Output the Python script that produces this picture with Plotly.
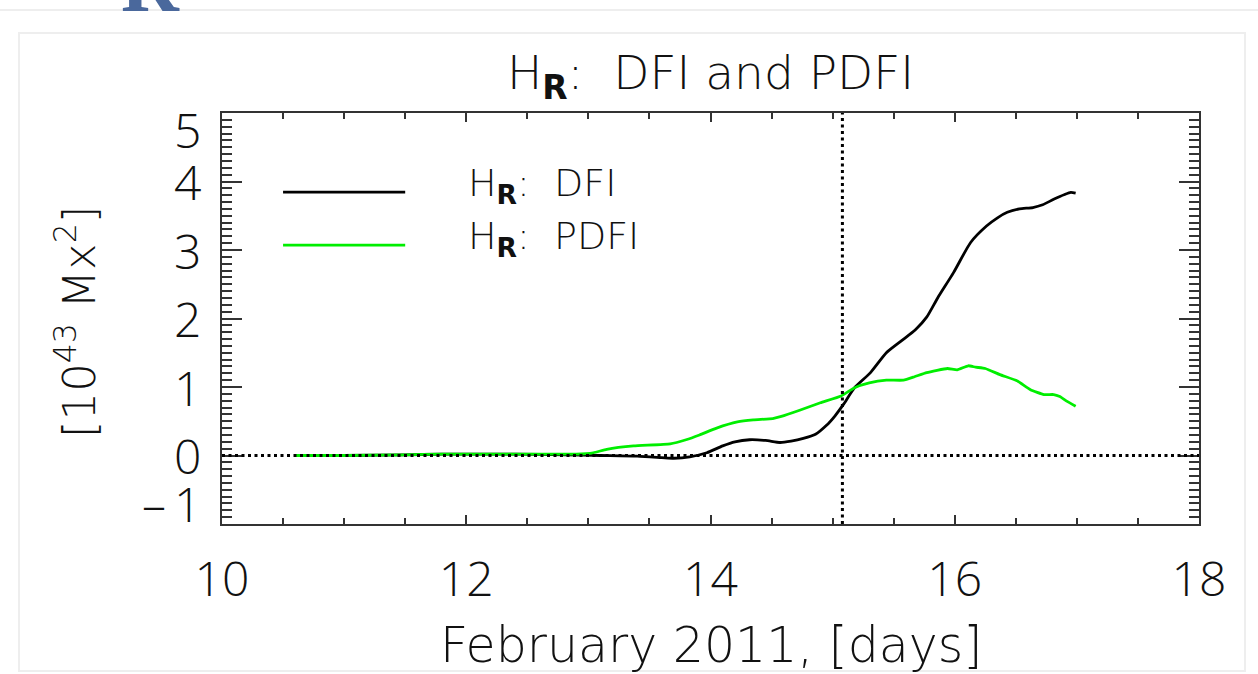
import plotly.graph_objects as go

# ---------------- data ----------------
days_dfi = [10.6, 11.0, 11.5, 11.8, 12.0, 12.4, 12.8, 13.1, 13.4, 13.6, 13.7, 13.83,
            13.97, 14.10, 14.20, 14.32, 14.45, 14.57, 14.66, 14.76, 14.86, 14.95, 15.02,
            15.09, 15.18, 15.31, 15.44, 15.56, 15.68, 15.77, 15.86, 15.99, 16.13, 16.26,
            16.35, 16.43, 16.53, 16.64, 16.72, 16.81, 16.90, 16.95, 16.99]
dfi = [0.0, 0.0, 0.01, 0.02, 0.02, 0.02, 0.01, 0.0, -0.01, -0.03, -0.04, -0.02,
       0.04, 0.14, 0.20, 0.23, 0.22, 0.19, 0.21, 0.25, 0.31, 0.44, 0.58,
       0.75, 0.99, 1.21, 1.50, 1.67, 1.84, 2.02, 2.30, 2.67, 3.11, 3.35,
       3.47, 3.55, 3.60, 3.62, 3.66, 3.74, 3.81, 3.84, 3.83]

days_pdfi = [10.6, 11.0, 11.5, 11.8, 12.0, 12.5, 12.9, 13.04, 13.15, 13.37, 13.67, 13.8,
             13.91, 14.05, 14.22, 14.35, 14.51, 14.58, 14.73, 14.90, 15.07, 15.18, 15.30,
             15.44, 15.58, 15.67, 15.77, 15.94, 16.02, 16.11, 16.17, 16.25, 16.37, 16.51,
             16.62, 16.73, 16.81, 16.86, 16.92, 16.99]
pdfi = [0.0, 0.0, 0.01, 0.02, 0.02, 0.02, 0.02, 0.04, 0.09, 0.14, 0.17, 0.23,
        0.30, 0.40, 0.49, 0.52, 0.54, 0.57, 0.66, 0.77, 0.87, 0.99, 1.06,
        1.10, 1.10, 1.15, 1.21, 1.27, 1.25, 1.31, 1.29, 1.27, 1.18, 1.09,
        0.96, 0.89, 0.89, 0.86, 0.79, 0.72]

flare_day = 15.08
x_ticks = [10, 12, 14, 16, 18]
y_ticks = [-1, 0, 1, 2, 3, 4, 5]
y_tick_text = ["\u2013\u20091", "0", "1", "2", "3", "4", "5"]
series_names = ["H<sub><b>R</b></sub>:  DFI", "H<sub><b>R</b></sub>:  PDFI"]

# ---------------- styling ----------------
FONT = "Open Sans"
TFONT = "DejaVu Sans"
TXT = "#111111"
AX = "#333333"
W, H = 1258, 674
L, R, T, B = 222, 1199, 113, 524   # plot area in pixels
pw, ph = R - L, B - T


def px(xp):
    return (xp - L) / pw


def py(yp):
    return (B - yp) / ph


fig = go.Figure()
fig.add_trace(go.Scatter(x=days_dfi, y=dfi, mode="lines", name=series_names[0],
                         line=dict(color="#000000", width=2.8, shape="spline", smoothing=0.6),
                         showlegend=False))
fig.add_trace(go.Scatter(x=days_pdfi, y=pdfi, mode="lines", name=series_names[1],
                         line=dict(color="#00ee00", width=2.8, shape="spline", smoothing=0.4),
                         showlegend=False))

# zero line and flare-time line
fig.add_shape(type="line", xref="paper", yref="y", x0=0, x1=1, y0=0, y1=0,
              line=dict(color="#000000", width=3, dash="3px,3.5px"), layer="above")
fig.add_shape(type="line", xref="x", yref="paper", x0=flare_day, x1=flare_day, y0=0, y1=1,
              line=dict(color="#000000", width=3, dash="3px,3.5px"), layer="above")

# legend samples
leg_y = [3.845, 3.07]
leg_col = ["#000000", "#00ee00"]
for i in range(2):
    fig.add_shape(type="line", xref="x", yref="y", x0=10.5, x1=11.5, y0=leg_y[i], y1=leg_y[i],
                  line=dict(color=leg_col[i], width=2.8))
    fig.add_annotation(xref="x", yref="y", x=12.0, y=leg_y[i] + 0.1, text=series_names[i],
                       showarrow=False, xanchor="left", yanchor="middle",
                       font=dict(family=TFONT, size=38, color=TXT, weight=300))

# y tick labels (IDL places the end labels inside the axis range)
shifts = {-1: 21, 5: -16}
for v, t in zip(y_ticks, y_tick_text):
    fig.add_annotation(xref="paper", yref="y", x=px(203), y=v, text=t, showarrow=False,
                       xanchor="right", yanchor="middle", yshift=shifts.get(v, 0),
                       font=dict(family=FONT, size=48, color=TXT, weight=300))

# axis titles
fig.add_annotation(xref="paper", yref="paper", x=0.5, y=py(645), text="February 2011, [days]",
                   showarrow=False, xanchor="center", yanchor="middle",
                   font=dict(family=TFONT, size=49, color=TXT, weight=300))
fig.add_annotation(xref="paper", yref="paper", x=px(76), y=py(322),
                   text="[10<sup>43</sup> Mx<sup>2</sup>]", textangle=-90,
                   showarrow=False, xanchor="center", yanchor="middle",
                   font=dict(family=TFONT, size=45, color=TXT, weight=300))

# page decoration: frame, top rule and clipped panel letter
fig.add_shape(type="rect", xref="paper", yref="paper", x0=px(19), x1=px(1245), y0=py(33), y1=py(671),
              line=dict(color="#eeeeee", width=2), layer="below")
fig.add_shape(type="line", xref="paper", yref="paper", x0=px(0), x1=px(1258), y0=py(10), y1=py(10),
              line=dict(color="#eeeeee", width=2), layer="below")
fig.add_annotation(xref="paper", yref="paper", x=px(150), y=py(12), text="<b>R</b>",
                   showarrow=False, xanchor="center", yanchor="bottom", yshift=-18,
                   font=dict(family="Liberation Serif", size=80, color="#4a689c"))

fig.update_layout(
    width=W, height=H,
    margin=dict(l=L, r=W - R, t=T, b=H - B, pad=0),
    paper_bgcolor="white", plot_bgcolor="white",
    title=dict(text="H<sub><b>R</b></sub>:  DFI and PDFI", x=0.5, xref="paper",
               y=1 - 73 / H, yref="container", yanchor="middle", xanchor="center",
               font=dict(family=TFONT, size=47, color=TXT, weight=300)),
    xaxis=dict(range=[10, 18], tickvals=x_ticks, ticktext=[str(v) for v in x_ticks],
               ticks="inside", ticklen=9, tickwidth=1.5, tickcolor=AX,
               minor=dict(dtick=0.5, ticks="inside", ticklen=6, tickwidth=1.5, tickcolor=AX),
               showline=True, linecolor=AX, linewidth=2, mirror="allticks",
               showgrid=False, zeroline=False, ticklabelstandoff=12,
               tickfont=dict(family=FONT, size=48, color=TXT, weight=300)),
    yaxis=dict(range=[-1, 5], tickvals=y_ticks, showticklabels=False,
               ticks="inside", ticklen=20, tickwidth=1.5, tickcolor=AX,
               minor=dict(dtick=0.1, ticks="inside", ticklen=10, tickwidth=1.5, tickcolor=AX),
               showline=True, linecolor=AX, linewidth=2, mirror="allticks",
               showgrid=False, zeroline=False),
)

fig.write_html("out.html")
